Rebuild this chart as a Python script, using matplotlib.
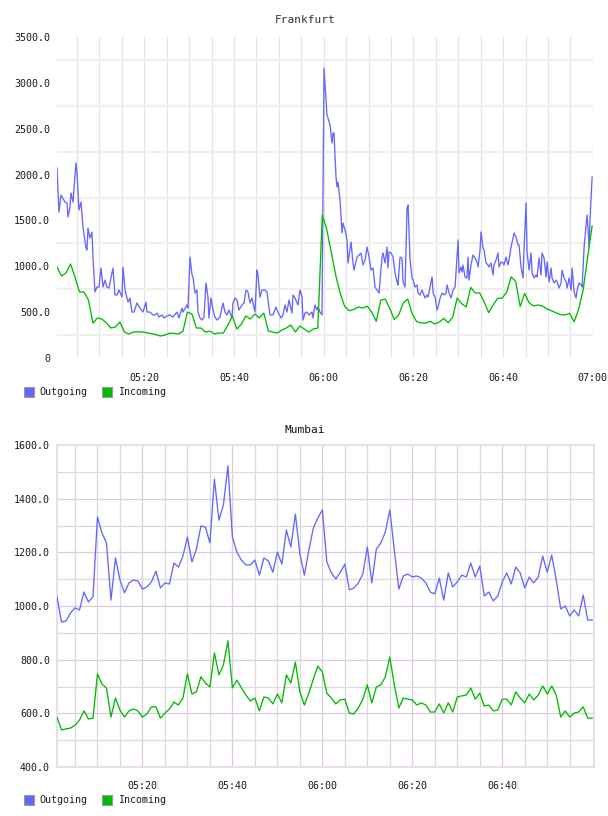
import numpy as np
import matplotlib
matplotlib.use("Agg")
import matplotlib.pyplot as plt
from matplotlib.patches import Rectangle

# ---------------- data ----------------
series_names = ["Outgoing", "Incoming"]
series_colors = ["#6666ff", "#00bb00"]

# Frankfurt outgoing: minutes after 05:00, value
fra_out_min = [
    0.54, 0.98, 1.43, 2.32, 2.77, 2.99, 3.43, 3.66, 4.10, 4.77, 5.00, 5.44, 5.89, 6.33, 7.00, 7.22, 7.45, 7.89,
    8.34, 8.56, 9.01, 9.45, 9.90, 10.35, 10.79, 11.24, 11.68, 12.13, 13.02, 13.47, 13.91, 14.36, 15.03, 15.25,
    15.70, 16.37, 16.81, 17.26, 17.70, 18.37, 19.04, 19.71, 20.38, 20.60, 21.27, 21.94, 22.39, 22.83, 23.28,
    23.95, 24.39, 25.06, 25.73, 26.40, 27.29, 27.74, 28.41, 28.63, 29.52, 29.75, 30.19, 30.64, 30.86, 31.31,
    31.75, 31.97, 32.42, 32.86, 33.31, 33.76, 34.20, 34.42, 34.87, 35.32, 35.76, 36.21, 36.88, 37.55, 37.99,
    38.44, 38.89, 39.55, 39.78, 40.22, 40.67, 41.11, 41.78, 42.23, 42.68, 43.12, 43.57, 44.01, 44.68, 45.13,
    45.35, 45.80, 46.24, 46.91, 47.36, 47.58, 48.03, 48.70, 49.37, 49.81, 50.48, 50.93, 51.37, 51.82, 52.27,
    52.94, 53.16, 53.61, 54.28, 54.72, 55.17, 55.39, 55.84, 56.28, 56.73, 57.40, 57.62, 58.07, 58.51, 58.74,
    59.18, 59.63, 60.07, 60.74, 60.96, 61.41, 61.86, 62.08, 62.30, 62.75, 62.97, 63.19, 63.64, 64.09, 64.31,
    64.76, 65.20, 65.43, 66.10, 66.54, 66.77, 67.44, 67.88, 68.33, 68.77, 69.22, 69.67, 70.11, 70.56, 71.00,
    71.45, 71.90, 72.34, 73.01, 73.23, 73.68, 74.13, 74.35, 74.57, 75.02, 75.47, 75.91, 76.36, 76.58, 77.03,
    77.47, 77.70, 78.14, 78.59, 78.81, 79.26, 79.71, 79.93, 80.38, 80.82, 81.05, 81.49, 81.94, 82.16, 82.61,
    83.06, 83.28, 83.73, 84.17, 84.40, 84.84, 85.29, 85.51, 85.96, 86.41, 86.85, 87.30, 87.52, 87.97, 88.41,
    88.86, 89.30, 89.97, 90.17, 90.61, 90.84, 91.06, 91.51, 91.95, 92.18, 92.40, 92.85, 93.29, 93.74, 94.19,
    94.41, 94.86, 95.08, 95.53, 95.75, 96.20, 96.64, 96.87, 97.31, 97.76, 97.98, 98.43, 98.87, 99.10, 99.54,
    99.99, 100.21, 100.66, 101.10, 101.33, 101.77, 102.22, 102.44, 102.89, 103.34, 103.56, 104.01, 104.45,
    104.67, 105.12, 105.35, 105.79, 106.24, 106.46, 106.91, 107.35, 107.58, 108.02, 108.47, 108.69, 109.14,
    109.59, 109.81, 110.26, 110.70, 110.92, 111.37, 111.82, 112.04, 112.49, 112.93, 113.16, 113.60, 114.05,
    114.27, 114.72, 115.17, 115.39, 115.84, 116.28, 116.51, 116.95, 117.40, 117.62, 118.07, 118.51, 118.74,
    118.96, 119.18, 119.41, 119.85,
]
fra_out = [
    2071, 1590, 1777, 1700, 1690, 1537, 1646, 1799, 1700, 2126, 2017, 1613, 1700, 1428, 1199, 1177, 1417, 1308,
    1373, 1101, 720, 774, 774, 981, 774, 850, 774, 763, 981, 687, 687, 741, 665, 992,
    741, 610, 654, 501, 501, 600, 545, 501, 610, 501, 501, 469, 469, 490, 447,
    469, 436, 458, 469, 447, 501, 436, 545, 501, 578, 545, 1101, 905, 883, 709,
    741, 501, 436, 414, 447, 818, 665, 436, 654, 523, 447, 414, 447, 600, 501,
    469, 523, 436, 600, 654, 632, 523, 578, 600, 741, 720, 600, 654, 501, 959,
    905, 665, 741, 741, 720, 632, 469, 469, 556, 501, 436, 469, 578, 501, 632,
    490, 687, 654, 578, 741, 665, 414, 490, 501, 469, 501, 436, 578, 523, 556,
    501, 469, 3162, 2649, 2617, 2540, 2344, 2453, 2453, 1973, 1865, 1919, 1723, 1363, 1472,
    1396, 1287, 1036, 1265, 1036, 959, 1101, 1123, 1145, 1014, 1068, 1210, 1101, 959, 981,
    774, 741, 709, 1101, 1145, 1036, 1210, 981, 1156, 1145, 1101, 927, 829, 796, 1101,
    1090, 829, 774, 1635, 1668, 1068, 872, 850, 774, 796, 709, 687, 741, 709, 654,
    687, 665, 774, 883, 709, 665, 523, 556, 654, 709, 687, 709, 796, 709, 654,
    741, 774, 1287, 927, 992, 937, 1014, 883, 872, 1101, 850, 1014, 1123, 1090, 1047,
    992, 1177, 1374, 1199, 1177, 1036, 1014, 992, 1036, 905, 1014, 1068, 1145, 992, 1047,
    1036, 1014, 1101, 1014, 1068, 1210, 1308, 1363, 1319, 1232, 1232, 992, 872,
    1177, 1690, 1156, 959, 1145, 927, 872, 905, 883, 1090, 905, 1145, 1090,
    883, 1047, 829, 981, 872, 818, 850, 829, 763, 818, 959, 872, 829,
    763, 872, 741, 981, 720, 654, 741, 818, 796, 774, 1210, 1450, 1559,
    1396, 1210, 1537, 1973,
]

# Frankfurt incoming: one value per minute, 05:00:32 .. 06:59:51
fra_in_start, fra_in_end = 0.54, 119.85
fra_in = [
    992, 894, 927, 1025, 883, 720, 720, 632, 381, 436,
    425, 381, 327, 338, 392, 283, 262, 283, 285, 283,
    275, 265, 255, 240, 250, 270, 268, 262, 290, 501,
    480, 327, 327, 283, 294, 262, 272, 272, 360, 458,
    316, 370, 458, 425, 480, 436, 490, 294, 283, 272,
    305, 327, 360, 283, 349, 316, 283, 316, 327, 1559,
    1400, 1150, 900, 700, 560, 515, 530, 556, 545, 565,
    500, 400, 630, 643, 540, 420, 470, 600, 643, 480,
    395, 383, 381, 400, 372, 390, 432, 385, 445, 654,
    592, 556, 770, 709, 709, 612, 495, 578, 650, 654,
    715, 885, 835, 560, 705, 600, 567, 578, 567, 534,
    514, 492, 472, 469, 488, 395, 530, 741, 1100, 1439,
]

# Mumbai: one value per minute, 05:01 .. 07:00
mum_start_min = 1
mum_out = [
    1034, 940, 944, 974, 993, 985, 1052, 1015, 1034, 1332,
    1272, 1235, 1022, 1179, 1097, 1049, 1086, 1097, 1093, 1063,
    1071, 1090, 1130, 1067, 1086, 1082, 1160, 1145, 1186, 1257,
    1164, 1212, 1298, 1294, 1235, 1473, 1320, 1376, 1522, 1257,
    1201, 1171, 1153, 1153, 1171, 1115, 1179, 1168, 1126, 1201,
    1156, 1283, 1220, 1343, 1195, 1115, 1209, 1291, 1328, 1358,
    1164, 1123, 1101, 1126, 1156, 1060, 1067, 1086, 1119, 1220,
    1086, 1212, 1235, 1276, 1358, 1209, 1063, 1112, 1119, 1108,
    1112, 1104, 1086, 1052, 1045, 1104, 1022, 1123, 1071, 1090,
    1115, 1108, 1160, 1108, 1149, 1037, 1052, 1019, 1037, 1090,
    1123, 1082, 1145, 1123, 1067, 1108, 1086, 1108, 1186, 1126,
    1190, 1097, 989, 1000, 963, 985, 963, 1041, 948, 948,
]
mum_in = [
    586, 538, 542, 545, 556, 575, 609, 579, 582, 747,
    709, 694, 586, 657, 612, 586, 609, 616, 609, 586,
    598, 624, 624, 582, 601, 616, 642, 631, 657, 747,
    672, 680, 736, 713, 698, 825, 743, 780, 870, 695,
    724, 695, 668, 646, 657, 609, 661, 657, 635, 672,
    639, 743, 713, 791, 680, 631, 675, 728, 776, 754,
    675, 657, 635, 650, 653, 601, 598, 620, 653, 706,
    639, 698, 706, 736, 810, 706, 620, 657, 653, 650,
    631, 639, 631, 605, 605, 635, 601, 639, 605, 661,
    665, 668, 694, 653, 675, 627, 631, 609, 612, 653,
    653, 631, 680, 657, 639, 672, 650, 668, 702, 672,
    702, 668, 586, 609, 586, 601, 605, 624, 582, 582,
]

fra_xticks_min = [20, 40, 60, 80, 100, 120]
fra_xtick_labels = ["05:20", "05:40", "06:00", "06:20", "06:40", "07:00"]
fra_yticks = [0, 500, 1000, 1500, 2000, 2500, 3000, 3500]
fra_ytick_labels = ["0", "500.0", "1000.0", "1500.0", "2000.0", "2500.0", "3000.0", "3500.0"]

mum_xticks_min = [20, 40, 60, 80, 100]
mum_xtick_labels = ["05:20", "05:40", "06:00", "06:20", "06:40"]
mum_yticks = [400, 600, 800, 1000, 1200, 1400, 1600]
mum_ytick_labels = ["400.0", "600.0", "800.0", "1000.0", "1200.0", "1400.0", "1600.0"]

# ---------------- drawing ----------------
W, H = 608, 816
MONO = "DejaVu Sans Mono"
FS = 7.2
TXT = "#1a1a1a"


def rect_px(left, top, right, bottom):
    return [left / W, 1 - bottom / H, (right - left) / W, (bottom - top) / H]


def fig_xy(x, y):
    return x / W, 1 - y / H


fig = plt.figure(figsize=(W / 100, H / 100), dpi=100)

# ---- Frankfurt ----
ax1 = fig.add_axes(rect_px(57, 37, 593, 358))
minor_x = np.arange(5, 121, 5)
for m in minor_x:
    ax1.axvline(m, color="#e4e4e4", lw=0.9, zorder=0)
for v in np.arange(250, 3500, 500):
    ax1.axhline(v, color="#efefef", lw=1.6, zorder=0)
ax1.plot(fra_out_min, fra_out, color=series_colors[0], lw=0.95, zorder=3)
fra_in_min = np.linspace(fra_in_start, fra_in_end, len(fra_in))
ax1.plot(fra_in_min, fra_in, color=series_colors[1], lw=0.95, zorder=4)
ax1.set_xlim(0.54, 120.05)
ax1.set_ylim(0, 3500)
ax1.set_xticks(fra_xticks_min)
ax1.set_xticklabels(fra_xtick_labels)
ax1.set_yticks(fra_yticks)
ax1.set_yticklabels(fra_ytick_labels)
for s in ax1.spines.values():
    s.set_visible(False)
ax1.tick_params(length=0, labelsize=FS, labelcolor=TXT)
ax1.tick_params(axis="x", pad=11)
ax1.tick_params(axis="y", pad=5)
for lab in ax1.get_xticklabels() + ax1.get_yticklabels():
    lab.set_fontfamily(MONO)
fig.text(*fig_xy(305, 20), "Frankfurt", family=MONO, fontsize=8, color="#333333",
         ha="center", va="center")

# ---- Mumbai ----
ax2 = fig.add_axes(rect_px(57, 445, 594, 767))
GRID_GRAY = "#dadada"
GRID_PURP = "#dfc9e2"
for m in np.arange(5, 120, 5):
    ax2.axvline(m, color=GRID_PURP if m % 20 == 0 else GRID_GRAY, lw=0.9, zorder=0)
for v in np.arange(500, 1600, 100):
    ax2.axhline(v, color=GRID_PURP if v % 200 == 0 else GRID_GRAY, lw=0.9, zorder=0)
mum_min = mum_start_min + np.arange(len(mum_out))
ax2.plot(mum_min, mum_out, color=series_colors[0], lw=0.95, zorder=3)
ax2.plot(mum_min, mum_in, color=series_colors[1], lw=0.95, zorder=4)
ax2.set_xlim(1.0, 120.4)
ax2.set_ylim(400, 1600)
ax2.set_xticks(mum_xticks_min)
ax2.set_xticklabels(mum_xtick_labels)
ax2.set_yticks(mum_yticks)
ax2.set_yticklabels(mum_ytick_labels)
for s in ax2.spines.values():
    s.set_color("#ecdcee")
    s.set_linewidth(1.5)
ax2.tick_params(length=0, labelsize=FS, labelcolor=TXT)
ax2.tick_params(axis="x", pad=10)
ax2.tick_params(axis="y", pad=5)
for lab in ax2.get_xticklabels() + ax2.get_yticklabels():
    lab.set_fontfamily(MONO)
fig.text(*fig_xy(305, 430), "Mumbai", family=MONO, fontsize=8, color="#111111",
         ha="center", va="center")


# ---- legends ----
def legend_at(ycenter):
    positions = [(24, 39), (102, 118)]
    for (sx, tx), name, col in zip(positions, series_names, series_colors):
        x0, y0 = fig_xy(sx, ycenter + 5)
        fig.add_artist(Rectangle((x0, y0), 10 / W, 10 / H, transform=fig.transFigure,
                                 facecolor=col, edgecolor="#999999", lw=0.8))
        fig.text(*fig_xy(tx, ycenter), name, family=MONO, fontsize=FS, color=TXT,
                 ha="left", va="center")


legend_at(392)
legend_at(800)

fig.savefig("out.png", dpi=100)
